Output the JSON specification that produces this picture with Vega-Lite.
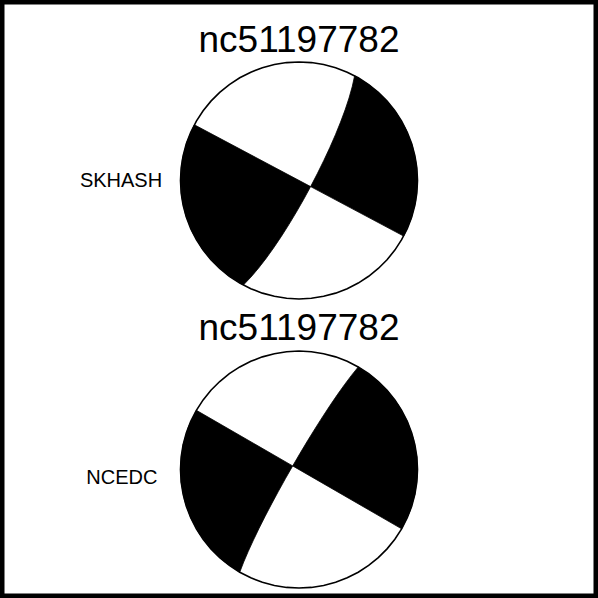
{
  "$schema": "https://vega.github.io/schema/vega-lite/v6.json",
  "width": 598,
  "height": 598,
  "padding": 0,
  "autosize": {"type": "fit", "contains": "padding"},
  "background": "white",
  "config": {"view": {"stroke": "black", "strokeWidth": 9}},
  "datasets": {
    "circles": [
      {"ball":"SKHASH","i":0,"x":0,"y":2.22},{"ball":"SKHASH","i":1,"x":0.1045,"y":2.2145},{"ball":"SKHASH","i":2,"x":0.2079,"y":2.1981},{"ball":"SKHASH","i":3,"x":0.309,"y":2.1711},{"ball":"SKHASH","i":4,"x":0.4067,"y":2.1335},{"ball":"SKHASH","i":5,"x":0.5,"y":2.086},{"ball":"SKHASH","i":6,"x":0.5878,"y":2.029},{"ball":"SKHASH","i":7,"x":0.6691,"y":1.9631},{"ball":"SKHASH","i":8,"x":0.7431,"y":1.8891},{"ball":"SKHASH","i":9,"x":0.809,"y":1.8078},{"ball":"SKHASH","i":10,"x":0.866,"y":1.72},{"ball":"SKHASH","i":11,"x":0.9135,"y":1.6267},{"ball":"SKHASH","i":12,"x":0.9511,"y":1.529},{"ball":"SKHASH","i":13,"x":0.9781,"y":1.4279},{"ball":"SKHASH","i":14,"x":0.9945,"y":1.3245},{"ball":"SKHASH","i":15,"x":1,"y":1.22},{"ball":"SKHASH","i":16,"x":0.9945,"y":1.1155},{"ball":"SKHASH","i":17,"x":0.9781,"y":1.0121},{"ball":"SKHASH","i":18,"x":0.9511,"y":0.911},{"ball":"SKHASH","i":19,"x":0.9135,"y":0.8133},{"ball":"SKHASH","i":20,"x":0.866,"y":0.72},{"ball":"SKHASH","i":21,"x":0.809,"y":0.6322},{"ball":"SKHASH","i":22,"x":0.7431,"y":0.5509},{"ball":"SKHASH","i":23,"x":0.6691,"y":0.4769},{"ball":"SKHASH","i":24,"x":0.5878,"y":0.411},{"ball":"SKHASH","i":25,"x":0.5,"y":0.354},{"ball":"SKHASH","i":26,"x":0.4067,"y":0.3065},{"ball":"SKHASH","i":27,"x":0.309,"y":0.2689},{"ball":"SKHASH","i":28,"x":0.2079,"y":0.2419},{"ball":"SKHASH","i":29,"x":0.1045,"y":0.2255},{"ball":"SKHASH","i":30,"x":0,"y":0.22},{"ball":"SKHASH","i":31,"x":-0.1045,"y":0.2255},{"ball":"SKHASH","i":32,"x":-0.2079,"y":0.2419},{"ball":"SKHASH","i":33,"x":-0.309,"y":0.2689},{"ball":"SKHASH","i":34,"x":-0.4067,"y":0.3065},{"ball":"SKHASH","i":35,"x":-0.5,"y":0.354},{"ball":"SKHASH","i":36,"x":-0.5878,"y":0.411},{"ball":"SKHASH","i":37,"x":-0.6691,"y":0.4769},{"ball":"SKHASH","i":38,"x":-0.7431,"y":0.5509},{"ball":"SKHASH","i":39,"x":-0.809,"y":0.6322},{"ball":"SKHASH","i":40,"x":-0.866,"y":0.72},{"ball":"SKHASH","i":41,"x":-0.9135,"y":0.8133},{"ball":"SKHASH","i":42,"x":-0.9511,"y":0.911},{"ball":"SKHASH","i":43,"x":-0.9781,"y":1.0121},{"ball":"SKHASH","i":44,"x":-0.9945,"y":1.1155},{"ball":"SKHASH","i":45,"x":-1,"y":1.22},{"ball":"SKHASH","i":46,"x":-0.9945,"y":1.3245},{"ball":"SKHASH","i":47,"x":-0.9781,"y":1.4279},{"ball":"SKHASH","i":48,"x":-0.9511,"y":1.529},{"ball":"SKHASH","i":49,"x":-0.9135,"y":1.6267},{"ball":"SKHASH","i":50,"x":-0.866,"y":1.72},{"ball":"SKHASH","i":51,"x":-0.809,"y":1.8078},{"ball":"SKHASH","i":52,"x":-0.7431,"y":1.8891},{"ball":"SKHASH","i":53,"x":-0.6691,"y":1.9631},{"ball":"SKHASH","i":54,"x":-0.5878,"y":2.029},{"ball":"SKHASH","i":55,"x":-0.5,"y":2.086},{"ball":"SKHASH","i":56,"x":-0.4067,"y":2.1335},{"ball":"SKHASH","i":57,"x":-0.309,"y":2.1711},{"ball":"SKHASH","i":58,"x":-0.2079,"y":2.1981},{"ball":"SKHASH","i":59,"x":-0.1045,"y":2.2145},{"ball":"SKHASH","i":60,"x":0,"y":2.22},
      {"ball":"NCEDC","i":0,"x":0,"y":-0.22},{"ball":"NCEDC","i":1,"x":0.1045,"y":-0.2255},{"ball":"NCEDC","i":2,"x":0.2079,"y":-0.2419},{"ball":"NCEDC","i":3,"x":0.309,"y":-0.2689},{"ball":"NCEDC","i":4,"x":0.4067,"y":-0.3065},{"ball":"NCEDC","i":5,"x":0.5,"y":-0.354},{"ball":"NCEDC","i":6,"x":0.5878,"y":-0.411},{"ball":"NCEDC","i":7,"x":0.6691,"y":-0.4769},{"ball":"NCEDC","i":8,"x":0.7431,"y":-0.5509},{"ball":"NCEDC","i":9,"x":0.809,"y":-0.6322},{"ball":"NCEDC","i":10,"x":0.866,"y":-0.72},{"ball":"NCEDC","i":11,"x":0.9135,"y":-0.8133},{"ball":"NCEDC","i":12,"x":0.9511,"y":-0.911},{"ball":"NCEDC","i":13,"x":0.9781,"y":-1.0121},{"ball":"NCEDC","i":14,"x":0.9945,"y":-1.1155},{"ball":"NCEDC","i":15,"x":1,"y":-1.22},{"ball":"NCEDC","i":16,"x":0.9945,"y":-1.3245},{"ball":"NCEDC","i":17,"x":0.9781,"y":-1.4279},{"ball":"NCEDC","i":18,"x":0.9511,"y":-1.529},{"ball":"NCEDC","i":19,"x":0.9135,"y":-1.6267},{"ball":"NCEDC","i":20,"x":0.866,"y":-1.72},{"ball":"NCEDC","i":21,"x":0.809,"y":-1.8078},{"ball":"NCEDC","i":22,"x":0.7431,"y":-1.8891},{"ball":"NCEDC","i":23,"x":0.6691,"y":-1.9631},{"ball":"NCEDC","i":24,"x":0.5878,"y":-2.029},{"ball":"NCEDC","i":25,"x":0.5,"y":-2.086},{"ball":"NCEDC","i":26,"x":0.4067,"y":-2.1335},{"ball":"NCEDC","i":27,"x":0.309,"y":-2.1711},{"ball":"NCEDC","i":28,"x":0.2079,"y":-2.1981},{"ball":"NCEDC","i":29,"x":0.1045,"y":-2.2145},{"ball":"NCEDC","i":30,"x":0,"y":-2.22},{"ball":"NCEDC","i":31,"x":-0.1045,"y":-2.2145},{"ball":"NCEDC","i":32,"x":-0.2079,"y":-2.1981},{"ball":"NCEDC","i":33,"x":-0.309,"y":-2.1711},{"ball":"NCEDC","i":34,"x":-0.4067,"y":-2.1335},{"ball":"NCEDC","i":35,"x":-0.5,"y":-2.086},{"ball":"NCEDC","i":36,"x":-0.5878,"y":-2.029},{"ball":"NCEDC","i":37,"x":-0.6691,"y":-1.9631},{"ball":"NCEDC","i":38,"x":-0.7431,"y":-1.8891},{"ball":"NCEDC","i":39,"x":-0.809,"y":-1.8078},{"ball":"NCEDC","i":40,"x":-0.866,"y":-1.72},{"ball":"NCEDC","i":41,"x":-0.9135,"y":-1.6267},{"ball":"NCEDC","i":42,"x":-0.9511,"y":-1.529},{"ball":"NCEDC","i":43,"x":-0.9781,"y":-1.4279},{"ball":"NCEDC","i":44,"x":-0.9945,"y":-1.3245},{"ball":"NCEDC","i":45,"x":-1,"y":-1.22},{"ball":"NCEDC","i":46,"x":-0.9945,"y":-1.1155},{"ball":"NCEDC","i":47,"x":-0.9781,"y":-1.0121},{"ball":"NCEDC","i":48,"x":-0.9511,"y":-0.911},{"ball":"NCEDC","i":49,"x":-0.9135,"y":-0.8133},{"ball":"NCEDC","i":50,"x":-0.866,"y":-0.72},{"ball":"NCEDC","i":51,"x":-0.809,"y":-0.6322},{"ball":"NCEDC","i":52,"x":-0.7431,"y":-0.5509},{"ball":"NCEDC","i":53,"x":-0.6691,"y":-0.4769},{"ball":"NCEDC","i":54,"x":-0.5878,"y":-0.411},{"ball":"NCEDC","i":55,"x":-0.5,"y":-0.354},{"ball":"NCEDC","i":56,"x":-0.4067,"y":-0.3065},{"ball":"NCEDC","i":57,"x":-0.309,"y":-0.2689},{"ball":"NCEDC","i":58,"x":-0.2079,"y":-0.2419},{"ball":"NCEDC","i":59,"x":-0.1045,"y":-0.2255},{"ball":"NCEDC","i":60,"x":0,"y":-0.22}
    ],
    "quads": [
      {"part":"SKHASH-NE","i":0,"x":0.4695,"y":2.103},{"part":"SKHASH-NE","i":1,"x":0.6018,"y":2.0186},{"part":"SKHASH-NE","i":2,"x":0.7193,"y":1.9147},{"part":"SKHASH-NE","i":3,"x":0.8192,"y":1.7936},{"part":"SKHASH-NE","i":4,"x":0.8988,"y":1.6584},{"part":"SKHASH-NE","i":5,"x":0.9563,"y":1.5124},{"part":"SKHASH-NE","i":6,"x":0.9903,"y":1.3592},{"part":"SKHASH-NE","i":7,"x":0.9998,"y":1.2025},{"part":"SKHASH-NE","i":8,"x":0.9848,"y":1.0463},{"part":"SKHASH-NE","i":9,"x":0.9455,"y":0.8944},{"part":"SKHASH-NE","i":10,"x":0.883,"y":0.7505},{"part":"SKHASH-NE","i":11,"x":0.098,"y":1.1679},{"part":"SKHASH-NE","i":12,"x":0.1549,"y":1.2777},{"part":"SKHASH-NE","i":13,"x":0.2091,"y":1.3878},{"part":"SKHASH-NE","i":14,"x":0.2602,"y":1.4974},{"part":"SKHASH-NE","i":15,"x":0.3075,"y":1.6058},{"part":"SKHASH-NE","i":16,"x":0.3507,"y":1.7121},{"part":"SKHASH-NE","i":17,"x":0.3892,"y":1.8156},{"part":"SKHASH-NE","i":18,"x":0.4223,"y":1.9156},{"part":"SKHASH-NE","i":19,"x":0.4493,"y":2.0116},{"part":"SKHASH-NE","i":20,"x":0.4695,"y":2.103},
      {"part":"SKHASH-SW","i":0,"x":-0.4695,"y":0.337},{"part":"SKHASH-SW","i":1,"x":-0.6018,"y":0.4214},{"part":"SKHASH-SW","i":2,"x":-0.7193,"y":0.5253},{"part":"SKHASH-SW","i":3,"x":-0.8192,"y":0.6464},{"part":"SKHASH-SW","i":4,"x":-0.8988,"y":0.7816},{"part":"SKHASH-SW","i":5,"x":-0.9563,"y":0.9276},{"part":"SKHASH-SW","i":6,"x":-0.9903,"y":1.0808},{"part":"SKHASH-SW","i":7,"x":-0.9998,"y":1.2375},{"part":"SKHASH-SW","i":8,"x":-0.9848,"y":1.3937},{"part":"SKHASH-SW","i":9,"x":-0.9455,"y":1.5456},{"part":"SKHASH-SW","i":10,"x":-0.883,"y":1.6895},{"part":"SKHASH-SW","i":11,"x":0.098,"y":1.1679},{"part":"SKHASH-SW","i":12,"x":0.0388,"y":1.0593},{"part":"SKHASH-SW","i":13,"x":-0.0222,"y":0.9528},{"part":"SKHASH-SW","i":14,"x":-0.0845,"y":0.8492},{"part":"SKHASH-SW","i":15,"x":-0.1479,"y":0.7493},{"part":"SKHASH-SW","i":16,"x":-0.2118,"y":0.6541},{"part":"SKHASH-SW","i":17,"x":-0.2762,"y":0.5643},{"part":"SKHASH-SW","i":18,"x":-0.3406,"y":0.4809},{"part":"SKHASH-SW","i":19,"x":-0.405,"y":0.4048},{"part":"SKHASH-SW","i":20,"x":-0.4695,"y":0.337},
      {"part":"NCEDC-NE","i":0,"x":0.5,"y":-0.354},{"part":"NCEDC-NE","i":1,"x":0.6293,"y":-0.4428},{"part":"NCEDC-NE","i":2,"x":0.7431,"y":-0.5509},{"part":"NCEDC-NE","i":3,"x":0.8387,"y":-0.6754},{"part":"NCEDC-NE","i":4,"x":0.9135,"y":-0.8133},{"part":"NCEDC-NE","i":5,"x":0.9659,"y":-0.9612},{"part":"NCEDC-NE","i":6,"x":0.9945,"y":-1.1155},{"part":"NCEDC-NE","i":7,"x":0.9986,"y":-1.2723},{"part":"NCEDC-NE","i":8,"x":0.9781,"y":-1.4279},{"part":"NCEDC-NE","i":9,"x":0.9336,"y":-1.5784},{"part":"NCEDC-NE","i":10,"x":0.866,"y":-1.72},{"part":"NCEDC-NE","i":11,"x":-0.0534,"y":-1.1891},{"part":"NCEDC-NE","i":12,"x":0.0089,"y":-1.0827},{"part":"NCEDC-NE","i":13,"x":0.0719,"y":-0.9777},{"part":"NCEDC-NE","i":14,"x":0.1353,"y":-0.8751},{"part":"NCEDC-NE","i":15,"x":0.1985,"y":-0.7756},{"part":"NCEDC-NE","i":16,"x":0.2612,"y":-0.6801},{"part":"NCEDC-NE","i":17,"x":0.3229,"y":-0.5894},{"part":"NCEDC-NE","i":18,"x":0.3835,"y":-0.5043},{"part":"NCEDC-NE","i":19,"x":0.4426,"y":-0.4255},{"part":"NCEDC-NE","i":20,"x":0.5,"y":-0.354},
      {"part":"NCEDC-SW","i":0,"x":-0.5,"y":-2.086},{"part":"NCEDC-SW","i":1,"x":-0.6293,"y":-1.9972},{"part":"NCEDC-SW","i":2,"x":-0.7431,"y":-1.8891},{"part":"NCEDC-SW","i":3,"x":-0.8387,"y":-1.7646},{"part":"NCEDC-SW","i":4,"x":-0.9135,"y":-1.6267},{"part":"NCEDC-SW","i":5,"x":-0.9659,"y":-1.4788},{"part":"NCEDC-SW","i":6,"x":-0.9945,"y":-1.3245},{"part":"NCEDC-SW","i":7,"x":-0.9986,"y":-1.1677},{"part":"NCEDC-SW","i":8,"x":-0.9781,"y":-1.0121},{"part":"NCEDC-SW","i":9,"x":-0.9336,"y":-0.8616},{"part":"NCEDC-SW","i":10,"x":-0.866,"y":-0.72},{"part":"NCEDC-SW","i":11,"x":-0.0534,"y":-1.1891},{"part":"NCEDC-SW","i":12,"x":-0.1145,"y":-1.2964},{"part":"NCEDC-SW","i":13,"x":-0.1739,"y":-1.4034},{"part":"NCEDC-SW","i":14,"x":-0.2311,"y":-1.5096},{"part":"NCEDC-SW","i":15,"x":-0.2856,"y":-1.6141},{"part":"NCEDC-SW","i":16,"x":-0.3369,"y":-1.7161},{"part":"NCEDC-SW","i":17,"x":-0.3846,"y":-1.815},{"part":"NCEDC-SW","i":18,"x":-0.4281,"y":-1.91},{"part":"NCEDC-SW","i":19,"x":-0.4668,"y":-2.0005},{"part":"NCEDC-SW","i":20,"x":-0.5,"y":-2.086}
    ],
    "titles": [
      {"t":"nc51197782","x":0,"y":2.3038},
      {"t":"nc51197782","x":0,"y":-0.1266}
    ],
    "labels": [
      {"t":"SKHASH","x":-1.502,"y":1.162},
      {"t":"NCEDC","x":-1.495,"y":-1.344}
    ]
  },
  "encoding": {
    "x": {"field":"x","type":"quantitative","scale":{"domain":[-2.5232,2.5232],"nice":false,"zero":false},"axis":null},
    "y": {"field":"y","type":"quantitative","scale":{"domain":[-2.3038,2.7426],"nice":false,"zero":false},"axis":null}
  },
  "layer": [
    {
      "data": {"name":"circles"},
      "mark": {"type":"line","fill":"white","stroke":"black","strokeWidth":1.6,"interpolate":"linear"},
      "encoding": {"detail":{"field":"ball"},"order":{"field":"i","type":"quantitative"}}
    },
    {
      "data": {"name":"quads"},
      "mark": {"type":"line","fill":"black","stroke":"black","strokeWidth":0.8,"interpolate":"linear"},
      "encoding": {"detail":{"field":"part"},"order":{"field":"i","type":"quantitative"}}
    },
    {
      "data": {"name":"titles"},
      "mark": {"type":"text","font":"Liberation Sans","fontSize":37,"align":"center","baseline":"alphabetic","color":"black"},
      "encoding": {"text":{"field":"t"}}
    },
    {
      "data": {"name":"labels"},
      "mark": {"type":"text","font":"Liberation Sans","fontSize":20,"align":"center","baseline":"alphabetic","color":"black"},
      "encoding": {"text":{"field":"t"}}
    },
    {
      "data": {"values": [{}]},
      "mark": {"type":"rule","color":"black","strokeWidth":14},
      "encoding": {"y": {"datum": -2.3038}, "x": {"datum": -2.5232}, "x2": {"datum": 2.5232}}
    }
  ]
}
